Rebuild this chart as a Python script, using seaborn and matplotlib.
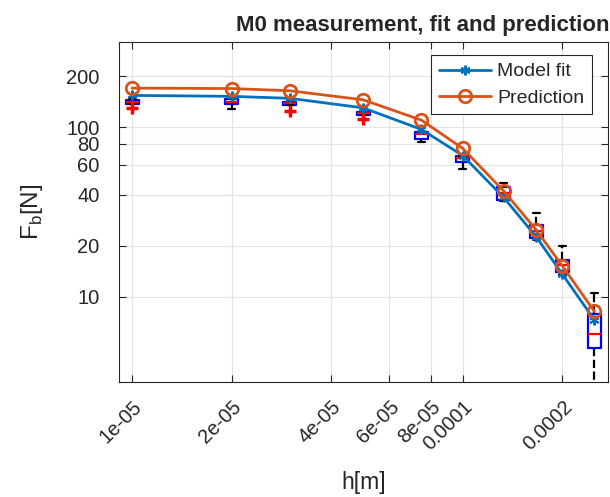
import numpy as np
import pandas as pd
import matplotlib
matplotlib.use("Agg")
import matplotlib.pyplot as plt
import matplotlib.transforms as mtransforms
import seaborn as sns

# ---- data ----
h = [1e-5, 2e-5, 3e-5, 5e-5, 7.5e-5, 1e-4, 1.33e-4, 1.67e-4, 2e-4, 2.5e-4]
fit = [154, 152, 148, 130, 97, 68, 38.5, 22.5, 13.6, 7.3]
pred = [170, 169, 164, 145, 110, 75, 42, 24.7, 15.2, 8.2]
box_lo = [137, 128, 135, 118, 82, 57, 36.5, 21.5, 13.5, 2.0]
box_q1 = [137.5, 137, 135.2, 118.2, 85, 62.5, 37.2, 22.1, 14.0, 5.0]
box_med = [141.5, 141, 138.5, 120.5, 91, 66, 41, 24.5, 15.4, 6.0]
box_q3 = [145.5, 146, 141.5, 123, 94, 67.8, 44.2, 26.5, 16.4, 7.9]
box_hi = [146, 146.5, 142, 123.5, 94.2, 68, 47, 31, 20, 10.5]
outlier_h = [1e-5, 3e-5, 5e-5]
outlier_F = [129, 125, 111]
xticks = [1e-5, 2e-5, 4e-5, 6e-5, 8e-5, 1e-4, 2e-4]
xticklabels = ["1e-05", "2e-05", "4e-05", "6e-05", "8e-05", "0.0001", "0.0002"]
yticks = [10, 20, 40, 60, 80, 100, 200]
yticklabels = ["10", "20", "40", "60", "80", "100", "200"]

rows = []
for i, hv in enumerate(h):
    for v in (box_lo[i], box_q1[i], box_med[i], box_q3[i], box_hi[i]):
        rows.append((hv, v))
df_box = pd.DataFrame(rows, columns=["h", "F"])
df_lines = pd.DataFrame({"h": h, "fit": fit, "pred": pred})
df_out = pd.DataFrame({"h": outlier_h, "F": outlier_F})

sns.set_theme(style="white")
plt.rcParams["font.family"] = ["Liberation Sans", "DejaVu Sans"]
plt.rcParams["mathtext.fontset"] = "custom"
plt.rcParams["mathtext.rm"] = "Liberation Sans"

fig = plt.figure(figsize=(6.1, 4.97), dpi=100)
ax = fig.add_axes([119 / 610, 1 - 382 / 497, (608 - 119) / 610, (382 - 42) / 497])

sns.boxplot(data=df_box, x="h", y="F", native_scale=True, log_scale=(True, True),
            fill=False, color="blue", linewidth=1.6, width=0.5, whis=(0, 100),
            ax=ax,
            boxprops=dict(color="blue", linewidth=1.6),
            medianprops=dict(color="red", linewidth=1.6),
            whiskerprops=dict(color="black", linestyle="--", linewidth=1.6),
            capprops=dict(color="black", linewidth=1.6))

sns.scatterplot(data=df_out, x="h", y="F", marker="+", s=80, color="red",
                linewidth=2.5, ax=ax, zorder=3, legend=False)

sns.lineplot(data=df_lines, x="h", y="fit", color="#0072BD", linewidth=2,
             marker=(6, 2, 0), markersize=7, markeredgewidth=1.5,
             markeredgecolor="#0072BD", label="Model fit", ax=ax, zorder=4)
sns.lineplot(data=df_lines, x="h", y="pred", color="#D95319", linewidth=2,
             marker="o", markersize=9, markerfacecolor="none", markeredgewidth=2,
             markeredgecolor="#D95319", label="Prediction", ax=ax, zorder=5)

ax.set_xscale("log")
ax.set_yscale("log")
ax.set_xlim(9.13e-6, 2.75e-4)
ax.set_ylim(3.14, 318)
ax.minorticks_off()
ax.set_xticks(xticks)
ax.set_xticklabels(xticklabels, rotation=45, ha="right", va="center",
                   rotation_mode="anchor")
ax.set_yticks(yticks)
ax.set_yticklabels(yticklabels)
ax.tick_params(axis="both", which="major", direction="in", length=5, width=0.8,
               colors="#262626", labelsize=14.5, top=True, right=True,
               bottom=True, left=True)
ax.tick_params(axis="y", pad=14)
ax.tick_params(axis="x", pad=16)
shift = mtransforms.ScaledTranslation(7 / 100, 0, fig.dpi_scale_trans)
for lab in ax.get_xticklabels():
    lab.set_transform(lab.get_transform() + shift)
ax.grid(True, which="major", color="#e3e3e3", linewidth=0.8)
ax.set_axisbelow(True)
for s in ax.spines.values():
    s.set_color("#262626")
    s.set_linewidth(0.8)

ax.set_xlabel("h[m]", fontsize=16.5, color="#262626", labelpad=12)
ax.set_ylabel(r"F$_\mathregular{b}$[N]", fontsize=17.5, color="#262626", labelpad=15)
ax.set_title("M0 measurement, fit and prediction", fontsize=16, fontweight="bold",
             x=0.622, pad=8)

leg = ax.legend(loc="upper right", bbox_to_anchor=(0.967, 0.962), fontsize=14,
                frameon=True, fancybox=False, framealpha=1, edgecolor="#262626",
                borderpad=0.4, labelspacing=0.45, handlelength=2.7,
                handletextpad=0.3, borderaxespad=0)
leg.get_frame().set_linewidth(0.8)

fig.savefig("out.png", dpi=100)
